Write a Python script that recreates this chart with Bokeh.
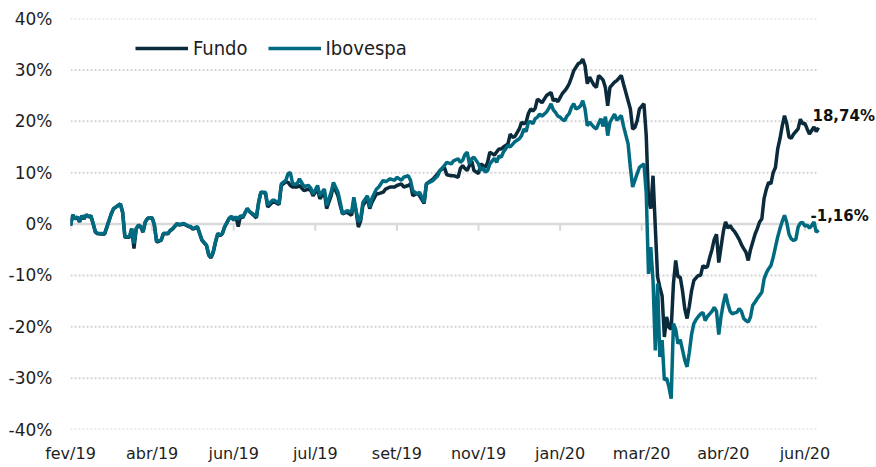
from bokeh.plotting import figure
from bokeh.models import Range1d, FixedTicker, PrintfTickFormatter, Legend, LegendItem, Label
from bokeh.embed import file_html
from bokeh.resources import INLINE

# ---- data (trading-day index, accumulated return in %) ----
dias = [0, 1, 2, 3, 4, 5, 6, 7, 8, 9, 10, 11, 12, 15, 16, 18, 19, 21, 22, 23, 24, 26, 27, 28, 29, 30,
        31, 32, 33, 34, 36, 37, 38, 40, 41, 43, 44, 45, 47, 48, 50, 52, 53, 54, 56, 57, 58, 60, 61, 62,
        63, 64, 65, 66, 67, 68, 70, 71, 72, 73, 74, 75, 76, 78, 79, 81, 82, 83, 84, 86, 87, 89, 90, 92,
        93, 95, 96, 97, 98, 100, 101, 103, 105, 106, 107, 109, 110, 112, 113, 115, 116, 118, 119, 120,
        122, 124, 125, 126, 127, 128, 129, 131, 132, 133, 135, 136, 138, 139, 141, 143, 144, 146, 147,
        149, 150, 151, 153, 154, 156, 157, 160, 162, 163, 165, 166, 168, 169, 171, 172, 173, 174, 175,
        176, 177, 178, 180, 181, 182, 183, 184, 185, 187, 188, 189, 190, 191, 193, 194, 195, 196, 198,
        199, 200, 201, 202, 203, 204, 205, 206, 207, 208, 210, 211, 212, 213, 214, 215, 216, 217, 218,
        219, 220, 221, 222, 223, 224, 225, 226, 227, 228, 229, 231, 232, 233, 234, 235, 236, 237, 238,
        240, 241, 243, 244, 246, 247, 248, 249, 250, 251, 253, 254, 255, 256, 257, 258, 259, 260, 261,
        262, 263, 264, 265, 266, 267, 268, 269, 270, 271, 272, 273, 274, 275, 276, 277, 278, 279, 280,
        281, 282, 283, 284, 285, 286, 287, 288, 289, 290, 291, 292, 293, 294, 295, 296, 297, 298, 299,
        300, 301, 302, 303, 304, 305, 306, 307, 308, 309, 310, 311, 312, 313, 314, 315, 316, 317, 318,
        319, 320, 321, 322, 323, 324, 325, 326, 327, 328, 329, 330]

fundo = [-0.3, 1.8, 1.0, 1.3, 0.4, 1.6, 1.0, 1.8, 1.4, 1.6, 0.0, -1.6, -1.9, -2.0, -0.7, 2.0, 3.0, 3.6,
         3.9, 2.3, -2.6, -2.6, -0.9, -4.8, -0.9, -0.3, -0.6, -1.6, 0.4, 1.1, 1.2, -0.2, -3.5, -3.2, -1.9,
         -1.9, -1.3, -1.0, 0.0, -0.2, 0.0, -0.5, -0.6, -1.0, -0.6, -1.9, -3.2, -4.2, -6.1, -6.6, -5.5,
         -3.5, -1.9, -2.3, -1.9, -0.6, 1.1, 1.4, 0.7, 1.4, -0.5, 1.6, 1.2, 3.0, 2.4, 1.6, 1.2, 4.2, 6.2,
         6.0, 3.3, 4.2, 4.3, 3.8, 7.5, 8.2, 8.1, 7.5, 7.2, 7.2, 7.5, 6.5, 6.8, 6.5, 5.5, 6.8, 4.9, 6.2,
         3.0, 5.5, 7.5, 5.5, 3.6, 2.0, 2.3, 1.7, 4.5, 2.5, -0.6, 0.6, 3.6, 4.9, 3.0, 4.2, 5.9, 5.9, 6.2,
         6.8, 7.2, 7.2, 7.5, 7.8, 7.2, 7.5, 7.8, 5.5, 6.0, 5.5, 4.0, 7.8, 8.8, 9.8, 10.4, 11.0, 9.6, 9.4,
         9.4, 9.1, 10.8, 11.4, 10.8, 10.4, 11.4, 12.3, 10.4, 9.8, 11.7, 11.4, 11.0, 12.0, 14.0, 13.4,
         14.0, 14.6, 14.6, 15.0, 15.6, 17.5, 16.9, 17.0, 18.5, 19.8, 19.5, 19.8, 21.5, 22.4, 22.0, 22.5,
         24.3, 24.0, 23.6, 25.0, 25.3, 25.6, 24.0, 24.3, 23.8, 24.6, 25.4, 25.9, 26.5, 27.3, 28.5, 29.8,
         30.5, 31.2, 31.4, 32.1, 30.8, 27.3, 28.6, 27.0, 26.6, 28.9, 28.5, 28.0, 26.5, 23.0, 26.6, 27.6,
         27.9, 28.9, 27.2, 24.0, 22.4, 18.5, 18.8, 20.1, 22.4, 23.4, 17.2, 4.6, 3.0, 9.4, -0.6, -10.3,
         -12.3, -14.0, -22.0, -18.1, -20.1, -20.5, -11.6, -7.1, -10.3, -10.3, -13.0, -16.5, -18.4, -16.0,
         -13.0, -11.0, -10.5, -10.0, -10.0, -8.1, -8.5, -8.3, -6.5, -5.0, -3.0, -2.0, -7.5, -4.5, -1.5,
         0.4, -0.8, -0.3, -1.0, -1.5, -2.2, -3.0, -4.0, -4.8, -5.5, -7.1, -5.0, -3.5, -2.0, -0.9, 0.4,
         1.0, 5.0, 6.8, 8.1, 7.8, 10.0, 11.0, 14.6, 16.6, 19.1, 21.1, 19.5, 16.9, 16.7, 17.5, 18.0, 18.5,
         20.4, 19.5, 19.6, 18.5, 17.5, 18.2, 18.9, 18.0, 18.74]

ibovespa = [-0.3, 1.8, 1.0, 1.4, 0.5, 1.6, 1.1, 1.8, 1.4, 1.6, 0.1, -1.5, -1.8, -1.9, -0.6, 2.0, 3.0,
            3.6, 3.9, 2.3, -2.5, -2.5, -0.9, -3.8, -0.9, -0.2, -0.5, -1.5, 0.4, 1.1, 1.2, -0.2, -3.4,
            -3.1, -1.8, -1.8, -1.2, -0.9, 0.1, -0.1, 0.1, -0.4, -0.5, -0.9, -0.5, -1.8, -3.1, -4.1, -6.0,
            -6.4, -5.3, -3.4, -1.8, -2.2, -1.8, -0.5, 1.1, 1.5, 0.8, 1.4, 0.9, 1.6, 1.4, 3.0, 2.4, 1.8,
            1.4, 4.2, 6.2, 6.2, 3.7, 4.6, 4.6, 4.0, 7.8, 8.5, 9.8, 10.0, 7.8, 7.8, 8.8, 7.3, 7.5, 7.0,
            5.8, 7.5, 5.5, 6.8, 3.6, 6.2, 8.1, 6.2, 4.2, 2.0, 2.6, 2.3, 5.2, 2.6, 0.4, 1.0, 4.2, 5.5, 3.3,
            5.0, 6.8, 7.2, 8.5, 8.2, 8.8, 8.5, 9.1, 8.5, 9.1, 9.4, 8.5, 6.5, 5.8, 6.2, 4.2, 7.8, 8.5, 9.4,
            10.4, 11.4, 12.0, 11.7, 12.3, 12.7, 12.0, 12.4, 13.5, 14.0, 11.7, 12.7, 13.0, 11.7, 10.4,
            11.0, 10.1, 10.4, 11.7, 12.8, 12.0, 13.2, 13.0, 14.0, 15.3, 15.0, 15.5, 16.0, 16.6, 17.2,
            18.5, 18.0, 19.8, 19.9, 19.5, 20.5, 20.8, 21.4, 21.0, 21.8, 22.5, 23.4, 22.2, 21.7, 21.0,
            20.8, 20.3, 20.1, 21.0, 21.5, 22.7, 23.4, 22.4, 22.6, 23.0, 24.0, 22.4, 19.1, 19.8, 18.8,
            18.5, 19.6, 20.5, 19.0, 20.9, 17.2, 19.8, 21.4, 20.2, 21.1, 19.0, 15.6, 11.0, 7.2, 8.5, 9.8,
            11.0, 11.7, 6.0, -9.7, -4.5, -11.0, -24.6, -11.6, -25.9, -22.6, -30.4, -30.0, -31.7, -34.0,
            -19.4, -20.5, -23.3, -22.5, -24.5, -26.5, -27.8, -25.0, -21.5, -19.4, -18.6, -18.0, -17.5,
            -17.2, -18.8, -18.0, -17.5, -17.0, -16.2, -17.0, -21.5, -18.0, -15.5, -13.6, -15.5, -17.0,
            -17.5, -17.3, -17.2, -16.5, -17.0, -18.4, -18.8, -19.1, -18.1, -15.8, -15.2, -14.5, -13.9,
            -13.3, -10.7, -9.5, -8.7, -8.1, -6.5, -4.5, -2.5, -0.9, 0.5, 1.7, 0.3, -2.0, -2.9, -3.2,
            -3.0, -0.6, 0.2, 0.3, -0.4, -0.2, -0.8, -0.3, 0.4, -1.6, -1.16]

rotulos_x = ["fev/19", "abr/19", "jun/19", "jul/19", "set/19", "nov/19",
             "jan/20", "mar/20", "abr/20", "jun/20"]
passo_rotulo = 36
ticks_y = [-40, -30, -20, -10, 0, 10, 20, 30, 40]
series = ["Fundo", "Ibovespa"]
cores = ["#0b2a3b", "#006a80"]

posicoes_x = [i * passo_rotulo for i in range(len(rotulos_x))]

FONT = "DejaVu Sans"
TXT = "#1e1e1e"
GRID = "#d6d6d6"

W, H = 876, 467
LEFT, TOP, BOTTOM = 70, 18, 38
DATA_RIGHT = 818          # page x where the last data point sits
frame_w = W - LEFT
x_end = dias[-1] * frame_w / (DATA_RIGHT - LEFT)

p = figure(width=W, height=H, output_backend="svg", toolbar_location=None,
           x_range=Range1d(0, x_end), y_range=Range1d(ticks_y[0], ticks_y[-1]),
           min_border_left=LEFT, min_border_right=0, min_border_top=TOP,
           min_border_bottom=BOTTOM)
p.outline_line_color = None
p.background_fill_color = "white"

# axes
p.xaxis.ticker = FixedTicker(ticks=posicoes_x)
p.xaxis.major_label_overrides = {pos: lab for pos, lab in zip(posicoes_x, rotulos_x)}
p.yaxis.ticker = FixedTicker(ticks=ticks_y)
p.yaxis.formatter = PrintfTickFormatter(format="%d%%")
for ax in (p.xaxis, p.yaxis):
    ax.axis_line_color = None
    ax.major_tick_line_color = None
    ax.minor_tick_line_color = None
    ax.major_tick_out = 0
    ax.major_tick_in = 0
    ax.minor_tick_out = 0
    ax.major_label_text_font = FONT
    ax.major_label_text_color = TXT
p.xaxis.major_label_text_font_size = "16px"
p.yaxis.major_label_text_font_size = "17px"
p.xaxis.major_label_standoff = 14
p.yaxis.major_label_standoff = 18

# grid (dotted, only over the data span) and solid zero line
p.xgrid.visible = False
p.ygrid.visible = False
outros = [t for t in ticks_y if t != 0]
p.segment(x0=[dias[0]] * len(outros), y0=outros, x1=[dias[-1]] * len(outros), y1=outros,
          line_color=GRID, line_width=2, line_dash="2 2")
p.segment(x0=[dias[0]], y0=[0], x1=[dias[-1]], y1=[0], line_color="#d9d9d9", line_width=2.5)
p.segment(x0=posicoes_x, y0=[0] * len(posicoes_x), x1=posicoes_x, y1=[-1.3] * len(posicoes_x),
          line_color="#d9d9d9", line_width=2)

# lines
r_f = p.line(dias, fundo, line_color=cores[0], line_width=3.5)
r_i = p.line(dias, ibovespa, line_color=cores[1], line_width=3.5)

legend = Legend(items=[LegendItem(label=series[0], renderers=[r_f]),
                       LegendItem(label=series[1], renderers=[r_i])],
                orientation="horizontal", location=(65, 369),
                label_text_font="DejaVu Sans Condensed", label_text_font_size="20px",
                label_text_color=TXT, glyph_width=53, glyph_height=24, label_height=24,
                label_standoff=5, spacing=20, padding=0, margin=0,
                border_line_color=None, background_fill_alpha=0)
p.add_layout(legend)

def fmt(v):
    return f"{v:.2f}".replace(".", ",") + "%"

for serie, dx, dy in ((fundo, -6, 12), (ibovespa, -8, 14)):
    p.add_layout(Label(x=dias[-1], y=serie[-1], text=fmt(serie[-1]), x_offset=dx, y_offset=dy,
                       text_font=FONT, text_font_size="15px", text_font_style="bold",
                       text_color="#111111", text_baseline="alphabetic"))

open("out.html", "w").write(file_html(p, INLINE))
